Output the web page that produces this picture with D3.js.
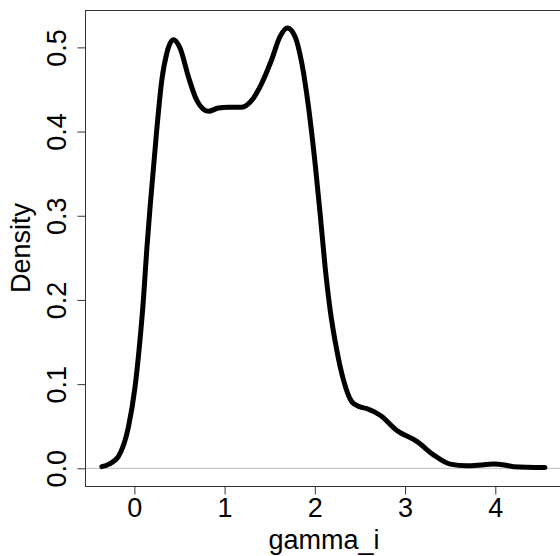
<!DOCTYPE html>
<html>
<head>
<meta charset="utf-8">
<script src="https://cdn.jsdelivr.net/npm/d3@7"></script>
<style>
  body { margin: 0; background: #fff; }
  text { font-family: "Liberation Sans", Arial, sans-serif; fill: #000; }
</style>
</head>
<body>
<div id="chart"></div>
<script>
// density estimate of gamma_i
const xs = [-0.36, -0.28, -0.177, -0.066, 0.008, 0.055, 0.10, 0.137, 0.174, 0.248, 0.304, 0.359, 0.432,
  0.507, 0.599, 0.692, 0.82, 0.931, 1.042, 1.19, 1.30, 1.41, 1.52, 1.615, 1.696, 1.78, 1.856, 1.93,
  2.003, 2.06, 2.114, 2.17, 2.244, 2.317, 2.41, 2.50, 2.577, 2.724, 2.91, 3.13, 3.315, 3.50, 3.685,
  3.85, 3.98, 4.10, 4.20, 4.55];
const ys = [0.002, 0.005, 0.014, 0.049, 0.097, 0.144, 0.20, 0.259, 0.310, 0.402, 0.461, 0.493, 0.509,
  0.499, 0.465, 0.437, 0.424, 0.428, 0.429, 0.429, 0.437, 0.457, 0.485, 0.513, 0.523, 0.513, 0.481, 0.429,
  0.362, 0.301, 0.239, 0.188, 0.140, 0.105, 0.079, 0.073, 0.071, 0.063, 0.045, 0.032, 0.016, 0.005, 0.003,
  0.004, 0.005, 0.004, 0.002, 0.001];
const xTicks = [0, 1, 2, 3, 4];
const yTicks = [0.0, 0.1, 0.2, 0.3, 0.4, 0.5];

const width = 560, height = 556;
const box = {left: 85, right: 563, top: 10, bottom: 486};
const fontSize = "27px";

const svg = d3.select("#chart").append("svg")
    .attr("width", width)
    .attr("height", height);

const x = d3.scaleLinear().domain([-0.547, 4.75]).range([box.left, box.right]);
const y = d3.scaleLinear().domain([-0.021, 0.5444]).range([box.bottom, box.top]);

// grey reference line at zero
svg.append("line")
    .attr("x1", box.left).attr("x2", box.right)
    .attr("y1", y(0)).attr("y2", y(0))
    .attr("stroke", "#bebebe")
    .attr("stroke-width", 1);

// density curve
const pts = xs.map((v, i) => [v, ys[i]]);
const line = d3.line()
    .x(d => x(d[0]))
    .y(d => y(d[1]))
    .curve(d3.curveMonotoneX);

svg.append("path")
    .datum(pts)
    .attr("d", line)
    .attr("fill", "none")
    .attr("stroke", "#000")
    .attr("stroke-width", 5)
    .attr("stroke-linejoin", "round")
    .attr("stroke-linecap", "round");

// plot box
svg.append("rect")
    .attr("x", box.left + 0.5).attr("y", box.top + 0.5)
    .attr("width", box.right - box.left).attr("height", box.bottom - box.top)
    .attr("fill", "none")
    .attr("stroke", "#333")
    .attr("stroke-width", 1);

// axes
const xAxis = d3.axisBottom(x).tickValues(xTicks).tickSize(8).tickFormat(d3.format("d"));
const xg = svg.append("g").attr("transform", `translate(0,${box.bottom + 0.5})`).call(xAxis);
xg.select(".domain").remove();
xg.selectAll("line").attr("stroke", "#333");
xg.selectAll("text")
    .style("font-size", fontSize)
    .attr("dy", null)
    .attr("y", 30);

const yAxis = d3.axisLeft(y).tickValues(yTicks).tickSize(8).tickFormat(d3.format(".1f"));
const yg = svg.append("g").attr("transform", `translate(${box.left + 0.5},0)`).call(yAxis);
yg.select(".domain").remove();
yg.selectAll("line").attr("stroke", "#333");
yg.selectAll("text")
    .style("font-size", fontSize)
    .attr("x", null).attr("dy", null)
    .attr("text-anchor", "middle")
    .attr("transform", "translate(-20,0) rotate(-90)");

// axis titles
svg.append("text")
    .attr("x", (box.left + box.right) / 2)
    .attr("y", 549)
    .attr("text-anchor", "middle")
    .style("font-size", fontSize)
    .text("gamma_i");

svg.append("text")
    .attr("transform", `translate(30,${(box.top + box.bottom) / 2}) rotate(-90)`)
    .attr("text-anchor", "middle")
    .style("font-size", fontSize)
    .text("Density");
</script>
</body>
</html>
